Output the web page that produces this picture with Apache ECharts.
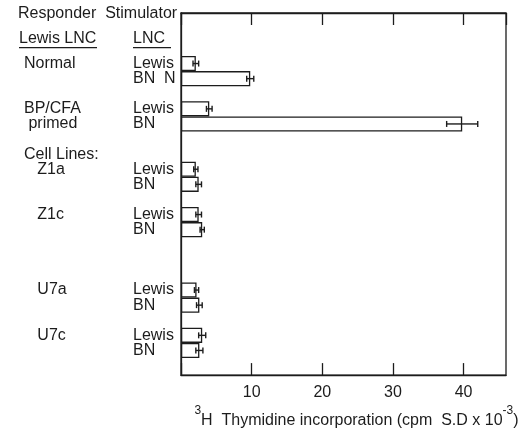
<!DOCTYPE html>
<html>
<head>
<meta charset="utf-8">
<script src="https://cdn.jsdelivr.net/npm/echarts@6/dist/echarts.min.js"></script>
<style>
  html, body { margin: 0; padding: 0; background: #fff; }
  #chart { width: 526px; height: 434px; }
</style>
</head>
<body>
<div id="chart"></div>
<script>
// one row per slot on the y axis, top to bottom (blank rows are the gaps)
const responders = ['Normal', '', '', 'BP/CFA', ' primed', '', 'Cell Lines:', '   Z1a', '', '', '   Z1c', '', '', '', '', '   U7a', '', '', '   U7c', ''];
const stimulators = ['Lewis', 'BN  N', '', 'Lewis', 'BN', '', '', 'Lewis', 'BN', '', 'Lewis', 'BN', '', '', '', 'Lewis', 'BN', '', 'Lewis', 'BN'];
// 3H thymidine incorporation (cpm x 10^-3) and its S.D.
const cpm = [2.1, 9.8, null, 4.0, 39.8, null, null, 2.1, 2.5, null, 2.5, 3.0, null, null, null, 2.2, 2.6, null, 3.0, 2.6];
const sd = [0.4, 0.5, null, 0.4, 2.2, null, null, 0.3, 0.4, null, 0.4, 0.3, null, null, null, 0.3, 0.4, null, 0.5, 0.5];
const xTicks = [10, 20, 30, 40];

const ink = '#1c1c1c';
const font = 'Liberation Sans';

const errData = [];
cpm.forEach(function (v, i) {
    if (v != null) errData.push([v - sd[i], v + sd[i], i]);
});

const myChart = echarts.init(document.getElementById('chart'));

const option = {
    animation: false,
    backgroundColor: '#fff',
    textStyle: { fontFamily: font, color: ink },
    grid: [
        // frame with the scale
        { left: 181, right: 20, top: 13, bottom: 51, show: true, borderColor: ink, borderWidth: 1.3, backgroundColor: 'transparent' },
        // bars
        { left: 181, right: 20, top: 56, height: 302 }
    ],
    xAxis: [
        {
            gridIndex: 0, type: 'value', min: 0, max: 46, interval: 10, position: 'bottom',
            axisLine: { show: true, lineStyle: { color: ink, width: 1.3 } },
            axisTick: { show: true, inside: true, length: 12, lineStyle: { color: ink, width: 1.3 } },
            splitLine: { show: false },
            axisLabel: {
                margin: 9, fontSize: 16, color: ink, fontFamily: font, showMaxLabel: false,
                formatter: function (v) { return xTicks.indexOf(v) >= 0 ? String(v) : ''; }
            },
            name: '{sup|3}{b|H  Thymidine incorporation (cpm  S.D x 10}{sup|-3}{b|)}',
            nameLocation: 'middle',
            nameGap: 14,
            nameTextStyle: {
                padding: [0, 0, 0, 26],
                rich: {
                    b: { fontSize: 16, fontFamily: font, color: ink, lineHeight: 24, verticalAlign: 'bottom' },
                    sup: { fontSize: 12, fontFamily: font, color: ink, lineHeight: 24, verticalAlign: 'top' }
                }
            }
        },
        {
            gridIndex: 0, type: 'value', min: 0, max: 46, interval: 10, position: 'top',
            axisLine: { show: true, lineStyle: { color: ink, width: 1.3 } },
            axisTick: { show: true, inside: true, length: 12, lineStyle: { color: ink, width: 1.3 } },
            splitLine: { show: false },
            axisLabel: { show: false }
        },
        {
            gridIndex: 1, type: 'value', min: 0, max: 46, show: false
        }
    ],
    yAxis: [
        { gridIndex: 0, type: 'value', min: 0, max: 1, axisLine: { show: true, lineStyle: { color: ink, width: 1.3 } }, axisTick: { show: false }, axisLabel: { show: false }, splitLine: { show: false } },
        {
            gridIndex: 1, type: 'category', inverse: true,
            data: stimulators.map(function (_, i) { return String(i); }),
            axisLine: { show: false }, axisTick: { show: false }, splitLine: { show: false },
            axisLabel: {
                interval: 0, margin: 48, align: 'left', fontSize: 16, color: ink, fontFamily: font,
                formatter: function (v, i) { return stimulators[i]; }
            }
        },
        {
            gridIndex: 1, type: 'category', inverse: true, position: 'left',
            data: responders.map(function (_, i) { return String(i); }),
            axisLine: { show: false }, axisTick: { show: false }, splitLine: { show: false },
            axisLabel: {
                interval: 0, margin: 157, align: 'left', fontSize: 16, color: ink, fontFamily: font,
                formatter: function (v, i) { return responders[i]; }
            }
        }
    ],
    graphic: [
        { type: 'text', left: 18, top: 6, style: { text: 'Responder  Stimulator', font: '16px "Liberation Sans"', fill: ink } },
        { type: 'text', left: 19, top: 31, style: { text: 'Lewis LNC', font: '16px "Liberation Sans"', fill: ink } },
        { type: 'text', left: 133, top: 31, style: { text: 'LNC', font: '16px "Liberation Sans"', fill: ink } },
        { type: 'rect', shape: { x: 19, y: 47, width: 78, height: 1.2 }, style: { fill: ink } },
        { type: 'rect', shape: { x: 133, y: 47, width: 38, height: 1.2 }, style: { fill: ink } }
    ],
    series: [
        {
            type: 'bar', xAxisIndex: 2, yAxisIndex: 1,
            barCategoryGap: '0%',
            itemStyle: { color: '#fff', borderColor: ink, borderWidth: 1.3 },
            data: cpm,
            z: 3
        },
        {
            type: 'custom', xAxisIndex: 2, yAxisIndex: 1,
            encode: { x: [0, 1], y: 2 },
            data: errData,
            z: 4,
            renderItem: function (params, api) {
                const lo = api.coord([api.value(0), api.value(2)]);
                const hi = api.coord([api.value(1), api.value(2)]);
                const y = lo[1];
                const h = 3;
                const st = { stroke: ink, lineWidth: 1.4 };
                return {
                    type: 'group',
                    children: [
                        { type: 'line', shape: { x1: lo[0], y1: y, x2: hi[0], y2: y }, style: st },
                        { type: 'line', shape: { x1: lo[0], y1: y - h, x2: lo[0], y2: y + h }, style: st },
                        { type: 'line', shape: { x1: hi[0], y1: y - h, x2: hi[0], y2: y + h }, style: st }
                    ]
                };
            }
        }
    ]
};

myChart.setOption(option);
</script>
</body>
</html>
